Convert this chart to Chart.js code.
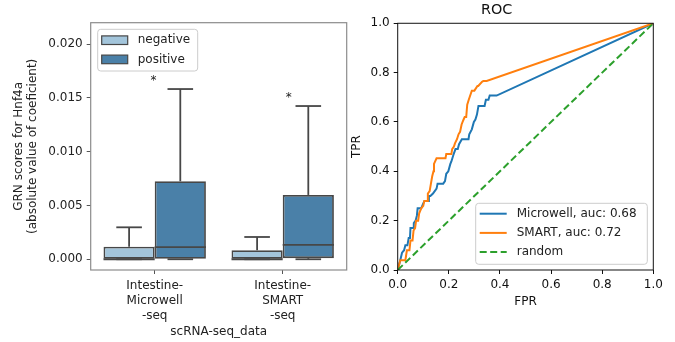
<!DOCTYPE html>
<html>
<head>
<meta charset="utf-8">
<script src="https://cdn.jsdelivr.net/npm/chart.js@4.4.1/dist/chart.umd.min.js"></script>
<style>
  body { margin: 0; background: #fff; }
  #wrap { position: relative; width: 675px; height: 342px; }
  .panel { position: absolute; top: 0; height: 342px; }
</style>
</head>
<body>
<div id="wrap">
  <div class="panel" style="left:0;width:350px"><canvas id="boxChart" width="350" height="342"></canvas></div>
  <div class="panel" style="left:340px;width:335px"><canvas id="rocChart" width="335" height="342"></canvas></div>
</div>
<script>
const FONT = "'DejaVu Sans', sans-serif";

// GRN scores box plot
const dataNames = [["Intestine-", "Microwell", "-seq"], ["Intestine-", "SMART", "-seq"]];
const scoreTicks = [0, 0.005, 0.01, 0.015, 0.02];
const negLow = [0, 0];
const negQ1 = [0, 0];
const negMedian = [0, 0];
const negQ3 = [0.00117, 0.00084];
const negHigh = [0.00297, 0.00207];
const posLow = [0, 0];
const posQ1 = [0, 0.0001];
const posMedian = [0.00112, 0.00133];
const posQ3 = [0.00725, 0.00598];
const posHigh = [0.01583, 0.01425];
const starX = [-0.01, 1.047];
const starY = [0.0163, 0.01475];

// ROC curves
const rocTicks = [0, 0.2, 0.4, 0.6, 0.8, 1.0];
const microwellFpr = [0, 0.01, 0.017, 0.025, 0.03, 0.038, 0.043, 0.048, 0.05, 0.06, 0.063, 0.07, 0.075, 0.078, 0.092, 0.1, 0.105, 0.119, 0.122, 0.128, 0.138, 0.152, 0.156, 0.178, 0.185, 0.19, 0.198, 0.206, 0.21, 0.219, 0.226, 0.235, 0.24, 0.251, 0.277, 0.28, 0.29, 0.298, 0.304, 0.31, 0.316, 0.34, 0.345, 0.355, 0.36, 0.387, 1];
const microwellTpr = [0, 0.04, 0.07, 0.08, 0.1, 0.1, 0.13, 0.13, 0.17, 0.17, 0.19, 0.2, 0.22, 0.25, 0.25, 0.27, 0.28, 0.28, 0.3, 0.3, 0.31, 0.33, 0.35, 0.35, 0.36, 0.39, 0.4, 0.43, 0.44, 0.47, 0.49, 0.49, 0.51, 0.53, 0.53, 0.55, 0.57, 0.6, 0.61, 0.63, 0.665, 0.665, 0.69, 0.69, 0.707, 0.707, 1];
const smartFpr = [0, 0.01, 0.03, 0.036, 0.046, 0.05, 0.058, 0.062, 0.068, 0.072, 0.08, 0.084, 0.092, 0.1, 0.104, 0.115, 0.118, 0.125, 0.13, 0.135, 0.14, 0.142, 0.152, 0.187, 0.19, 0.21, 0.213, 0.22, 0.224, 0.232, 0.238, 0.244, 0.25, 0.257, 0.262, 0.268, 0.272, 0.278, 0.29, 0.3, 0.312, 0.315, 0.33, 0.335, 0.348, 1];
const smartTpr = [0, 0.04, 0.04, 0.08, 0.08, 0.12, 0.12, 0.16, 0.17, 0.2, 0.2, 0.23, 0.25, 0.26, 0.28, 0.28, 0.31, 0.32, 0.35, 0.38, 0.4, 0.43, 0.453, 0.453, 0.47, 0.47, 0.49, 0.5, 0.513, 0.53, 0.55, 0.56, 0.59, 0.608, 0.62, 0.62, 0.67, 0.69, 0.727, 0.727, 0.746, 0.746, 0.763, 0.766, 0.766, 1];
const randomFpr = [0, 1];
const randomTpr = [0, 1];

const NEG_COLOR = "#a3c5db";
const POS_COLOR = "#4a80a8";
const EDGE = "#474747";

function toPoints(xs, ys) {
    return xs.map((x, i) => ({ x: x, y: ys[i] }));
}

// frame around the plotting area (all four spines)
function framePlugin(color, width) {
    return {
        id: "frame",
        afterDatasetsDraw(chart) {
            const a = chart.chartArea;
            const ctx = chart.ctx;
            ctx.save();
            ctx.strokeStyle = color;
            ctx.lineWidth = width;
            ctx.strokeRect(a.left, a.top, a.right - a.left, a.bottom - a.top);
            ctx.restore();
        },
    };
}

function roundRect(ctx, x, y, w, h, r) {
    ctx.beginPath();
    ctx.moveTo(x + r, y);
    ctx.lineTo(x + w - r, y);
    ctx.quadraticCurveTo(x + w, y, x + w, y + r);
    ctx.lineTo(x + w, y + h - r);
    ctx.quadraticCurveTo(x + w, y + h, x + w - r, y + h);
    ctx.lineTo(x + r, y + h);
    ctx.quadraticCurveTo(x, y + h, x, y + h - r);
    ctx.lineTo(x, y + r);
    ctx.quadraticCurveTo(x, y, x + r, y);
    ctx.closePath();
}

// matplotlib-like legend box
function legendPlugin(opts) {
    return {
        id: "mplLegend",
        afterDraw(chart) {
            const a = chart.chartArea;
            const ctx = chart.ctx;
            const x0 = opts.corner === "upper left" ? a.left + 7 : a.right - 6 - opts.width;
            const y0 = opts.corner === "upper left" ? a.top + 6.6 : a.bottom - 5.7 - opts.height;
            ctx.save();
            roundRect(ctx, x0, y0, opts.width, opts.height, 3);
            ctx.fillStyle = "rgba(255,255,255,0.85)";
            ctx.fill();
            ctx.strokeStyle = "#cccccc";
            ctx.lineWidth = 1;
            ctx.stroke();
            ctx.font = "12px " + FONT;
            ctx.textBaseline = "middle";
            opts.items.forEach((item, i) => {
                const cy = y0 + opts.firstRow + i * 19.2;
                if (item.kind === "patch") {
                    ctx.fillStyle = item.color;
                    ctx.fillRect(x0 + 4, cy - 4.3, 26, 8.6);
                    ctx.strokeStyle = EDGE;
                    ctx.lineWidth = 1.2;
                    ctx.strokeRect(x0 + 4, cy - 4.3, 26, 8.6);
                } else {
                    ctx.strokeStyle = item.color;
                    ctx.lineWidth = 2;
                    ctx.setLineDash(item.dash || []);
                    ctx.beginPath();
                    ctx.moveTo(x0 + 4, cy);
                    ctx.lineTo(x0 + 31, cy);
                    ctx.stroke();
                    ctx.setLineDash([]);
                }
                ctx.fillStyle = "#222";
                ctx.fillText(item.label, x0 + opts.textX, cy);
            });
            ctx.restore();
        },
    };
}

// whiskers, caps, medians and significance stars
const boxExtras = {
    id: "boxExtras",
    afterDatasetsDraw(chart) {
        const ctx = chart.ctx;
        const ys = chart.scales.y;
        const xs = chart.scales.x;
        const stats = [
            { low: negLow, q1: negQ1, med: negMedian, q3: negQ3, high: negHigh },
            { low: posLow, q1: posQ1, med: posMedian, q3: posQ3, high: posHigh },
        ];
        ctx.save();
        ctx.strokeStyle = EDGE;
        ctx.lineWidth = 1.8;
        const line = (x1, y1, x2, y2) => {
            ctx.beginPath();
            ctx.moveTo(x1, y1);
            ctx.lineTo(x2, y2);
            ctx.stroke();
        };
        stats.forEach((s, i) => {
            chart.getDatasetMeta(i).data.forEach((bar, j) => {
                const half = bar.width / 2;
                const cap = bar.width / 4;
                const pHigh = ys.getPixelForValue(s.high[j]);
                const pLow = ys.getPixelForValue(s.low[j]);
                line(bar.x, ys.getPixelForValue(s.q3[j]), bar.x, pHigh);
                line(bar.x - cap, pHigh, bar.x + cap, pHigh);
                line(bar.x, ys.getPixelForValue(s.q1[j]), bar.x, pLow);
                line(bar.x - cap, pLow, bar.x + cap, pLow);
                const pMed = ys.getPixelForValue(s.med[j]);
                line(bar.x - half, pMed, bar.x + half, pMed);
            });
        });
        ctx.fillStyle = "#222";
        ctx.font = "12px " + FONT;
        ctx.textAlign = "center";
        ctx.textBaseline = "alphabetic";
        starX.forEach((v, i) => {
            ctx.fillText("*", xs.getPixelForValue(v), ys.getPixelForValue(starY[i]));
        });
        ctx.restore();
    },
};

new Chart(document.getElementById("boxChart"), {
    type: "bar",
    data: {
        labels: dataNames,
        datasets: [
            {
                label: "negative",
                data: negQ1.map((v, i) => [v, negQ3[i]]),
                backgroundColor: NEG_COLOR,
                borderColor: EDGE,
                borderWidth: 1.8,
                borderSkipped: false,
            },
            {
                label: "positive",
                data: posQ1.map((v, i) => [v, posQ3[i]]),
                backgroundColor: POS_COLOR,
                borderColor: EDGE,
                borderWidth: 1.8,
                borderSkipped: false,
            },
        ],
    },
    options: {
        responsive: false,
        animation: false,
        categoryPercentage: 0.8,
        barPercentage: 1.0,
        layout: { padding: { top: 22.7, right: 3.3, bottom: 0, left: 0 } },
        plugins: {
            legend: { display: false },
            tooltip: { enabled: false },
        },
        scales: {
            x: {
                grid: { offset: false, drawOnChartArea: false, tickLength: 4, color: "#555" },
                border: { display: false },
                ticks: { color: "#222", padding: 4, font: { family: FONT, size: 12, lineHeight: 1.25 } },
                title: {
                    display: true,
                    text: "scRNA-seq_data",
                    color: "#222",
                    font: { family: FONT, size: 12, lineHeight: 1.25 },
                    padding: { top: 0, bottom: 2.2 },
                },
                afterFit(scale) { scale.height = 72; },
            },
            y: {
                min: -0.001,
                max: 0.022,
                grid: { drawOnChartArea: false, tickLength: 4, color: "#555" },
                border: { display: false },
                ticks: {
                    color: "#222",
                    padding: 4,
                    font: { family: FONT, size: 12 },
                    callback: (v) => v.toFixed(3),
                },
                afterBuildTicks(scale) { scale.ticks = scoreTicks.map((v) => ({ value: v })); },
                title: {
                    display: true,
                    text: ["GRN scores for Hnf4a", "(absolute value of coeficient)"],
                    color: "#222",
                    font: { family: FONT, size: 12, lineHeight: 1.22 },
                    padding: { top: 11.4, bottom: 0 },
                },
                afterFit(scale) { scale.width = 90.7; },
            },
        },
    },
    plugins: [
        boxExtras,
        framePlugin("#8c8c8c", 1.2),
        legendPlugin({
            corner: "upper left",
            width: 100,
            height: 41.7,
            firstRow: 10.9,
            textX: 40,
            items: [
                { kind: "patch", color: NEG_COLOR, label: "negative" },
                { kind: "patch", color: POS_COLOR, label: "positive" },
            ],
        }),
    ],
});

const MICRO_COLOR = "#1f77b4";
const SMART_COLOR = "#ff7f0e";
const RANDOM_COLOR = "#2ca02c";

new Chart(document.getElementById("rocChart"), {
    type: "line",
    data: {
        datasets: [
            {
                label: "Microwell, auc: 0.68",
                data: toPoints(microwellFpr, microwellTpr),
                borderColor: MICRO_COLOR,
                borderWidth: 2,
                pointRadius: 0,
                tension: 0,
                order: 3,
            },
            {
                label: "SMART, auc: 0.72",
                data: toPoints(smartFpr, smartTpr),
                borderColor: SMART_COLOR,
                borderWidth: 2,
                pointRadius: 0,
                tension: 0,
                order: 2,
            },
            {
                label: "random",
                data: toPoints(randomFpr, randomTpr),
                borderColor: RANDOM_COLOR,
                borderWidth: 2,
                borderDash: [7, 3.5],
                pointRadius: 0,
                tension: 0,
                order: 1,
            },
        ],
    },
    options: {
        responsive: false,
        animation: false,
        layout: { padding: { top: 0, right: 21.7, bottom: 0, left: 0 } },
        plugins: {
            legend: { display: false },
            tooltip: { enabled: false },
            title: {
                display: true,
                text: "ROC",
                color: "#111",
                font: { family: FONT, size: 14.4, weight: "normal", lineHeight: 1.2 },
                padding: { top: 1.4, bottom: 4.6 },
            },
        },
        scales: {
            x: {
                type: "linear",
                min: 0,
                max: 1,
                grid: { drawOnChartArea: false, tickLength: 4, color: "#111" },
                border: { display: false },
                ticks: { color: "#111", padding: 4, font: { family: FONT, size: 12 }, callback: (v) => v.toFixed(1) },
                afterBuildTicks(scale) { scale.ticks = rocTicks.map((v) => ({ value: v })); },
                title: {
                    display: true,
                    text: "FPR",
                    color: "#111",
                    font: { family: FONT, size: 12, lineHeight: 1.25 },
                    padding: { top: 0, bottom: 32.5 },
                },
                afterFit(scale) { scale.height = 72; },
            },
            y: {
                min: 0,
                max: 1,
                grid: { drawOnChartArea: false, tickLength: 4, color: "#111" },
                border: { display: false },
                ticks: { color: "#111", padding: 4, font: { family: FONT, size: 12 }, callback: (v) => v.toFixed(1) },
                afterBuildTicks(scale) { scale.ticks = rocTicks.map((v) => ({ value: v })); },
                title: {
                    display: true,
                    text: "TPR",
                    color: "#111",
                    font: { family: FONT, size: 12, lineHeight: 1.2 },
                    padding: { top: 9.5, bottom: 0 },
                },
                afterFit(scale) { scale.width = 57.7; },
            },
        },
    },
    plugins: [
        framePlugin("#111", 1),
        legendPlugin({
            corner: "lower right",
            width: 171.6,
            height: 61,
            firstRow: 10.4,
            textX: 41,
            items: [
                { kind: "line", color: MICRO_COLOR, label: "Microwell, auc: 0.68" },
                { kind: "line", color: SMART_COLOR, label: "SMART, auc: 0.72" },
                { kind: "line", color: RANDOM_COLOR, label: "random", dash: [7, 3.5] },
            ],
        }),
    ],
});
</script>
</body>
</html>
